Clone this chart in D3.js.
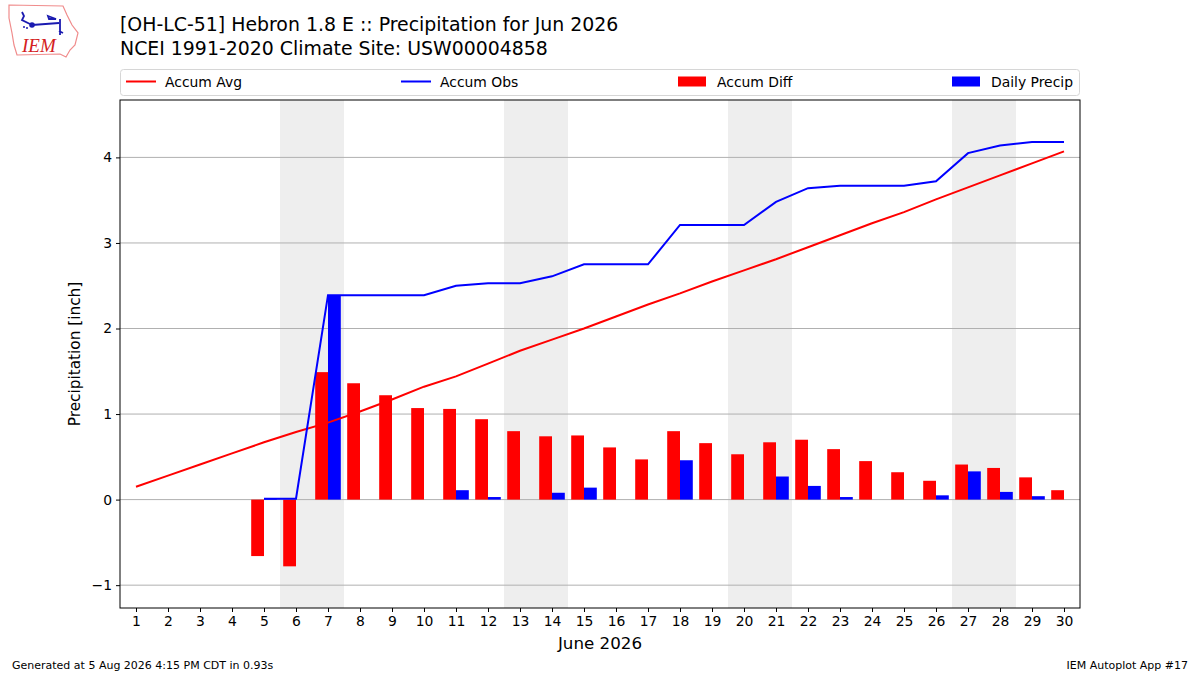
<!DOCTYPE html>
<html>
<head>
<meta charset="utf-8">
<script src="https://cdn.jsdelivr.net/npm/d3@7"></script>
<style>
  body { margin: 0; background: #fff; }
  svg { display: block; font-family: "DejaVu Sans", sans-serif; }
</style>
</head>
<body>
<svg id="chart" width="1200" height="675"></svg>
<script>
// days of June 2026
var days = d3.range(1, 31);
var weekendDays = [6, 7, 13, 14, 20, 21, 27, 28];

// accumulated climatology (inch)
var accumAvg = [0.15, 0.28, 0.41, 0.54, 0.67, 0.79, 0.90, 1.03, 1.17, 1.32,
                1.44, 1.59, 1.74, 1.87, 2.00, 2.14, 2.28, 2.41, 2.55, 2.68,
                2.81, 2.95, 3.09, 3.23, 3.36, 3.51, 3.65, 3.79, 3.93, 4.07];
// accumulated observed (inch), first 4 days missing
var accumObs = [null, null, null, null, 0.01, 0.01, 2.39, 2.39, 2.39, 2.39,
                2.50, 2.53, 2.53, 2.61, 2.75, 2.75, 2.75, 3.21, 3.21, 3.21,
                3.48, 3.64, 3.67, 3.67, 3.67, 3.72, 4.05, 4.14, 4.18, 4.18];
// accumulated departure (inch)
var accumDiff = [null, null, null, null, -0.66, -0.78, 1.49, 1.36, 1.22, 1.07,
                 1.06, 0.94, 0.80, 0.74, 0.75, 0.61, 0.47, 0.80, 0.66, 0.53,
                 0.67, 0.70, 0.59, 0.45, 0.32, 0.22, 0.41, 0.37, 0.26, 0.11];
// daily precipitation (inch)
var dailyPrecip = [null, null, null, null, 0.01, 0.00, 2.38, 0.00, 0.00, 0.00,
                   0.11, 0.03, 0.00, 0.08, 0.14, 0.00, 0.00, 0.46, 0.00, 0.00,
                   0.27, 0.16, 0.03, 0.00, 0.00, 0.05, 0.33, 0.09, 0.04, 0.00];

var yTicks = [-1, 0, 1, 2, 3, 4];

var svg = d3.select('#chart');
var plotL = 120, plotR = 1080, plotT = 100, plotB = 608;

var x = d3.scaleLinear().domain([0.5, 30.5]).range([plotL, plotR]);
var y = d3.scaleLinear().domain([-1.267, 4.671]).range([plotB, plotT]);
var bw = 0.4;

// weekend shading
svg.append('g').selectAll('rect')
    .data(weekendDays)
    .join('rect')
    .attr('x', d => x(d - 0.5))
    .attr('width', d => x(d + 0.5) - x(d - 0.5))
    .attr('y', plotT)
    .attr('height', plotB - plotT)
    .attr('fill', '#eeeeee');

// horizontal grid
svg.append('g').selectAll('line')
    .data(yTicks)
    .join('line')
    .attr('x1', plotL).attr('x2', plotR)
    .attr('y1', d => y(d)).attr('y2', d => y(d))
    .attr('stroke', '#b0b0b0')
    .attr('stroke-width', 1);

var rows = days.map((d, i) => ({day: d, avg: accumAvg[i], obs: accumObs[i], diff: accumDiff[i], daily: dailyPrecip[i]}));

// accum diff bars
svg.append('g').selectAll('rect')
    .data(rows.filter(r => r.diff !== null))
    .join('rect')
    .attr('x', r => x(r.day - bw))
    .attr('width', r => x(r.day) - x(r.day - bw))
    .attr('y', r => y(Math.max(0, r.diff)))
    .attr('height', r => Math.abs(y(r.diff) - y(0)))
    .attr('fill', '#ff0000');

// daily precip bars
svg.append('g').selectAll('rect')
    .data(rows.filter(r => r.daily))
    .join('rect')
    .attr('x', r => x(r.day))
    .attr('width', r => x(r.day + bw) - x(r.day))
    .attr('y', r => y(r.daily))
    .attr('height', r => y(0) - y(r.daily))
    .attr('fill', '#0000ff');

var avgLine = d3.line().x(r => x(r.day)).y(r => y(r.avg));
svg.append('path')
    .attr('d', avgLine(rows))
    .attr('fill', 'none').attr('stroke', '#ff0000').attr('stroke-width', 2);

var obsLine = d3.line().defined(r => r.obs !== null).x(r => x(r.day)).y(r => y(r.obs));
svg.append('path')
    .attr('d', obsLine(rows))
    .attr('fill', 'none').attr('stroke', '#0000ff').attr('stroke-width', 2);

// axes
var xAxis = d3.axisBottom(x).tickValues(days).tickSize(4).tickPadding(4);
var gx = svg.append('g').attr('transform', 'translate(0,' + plotB + ')').call(xAxis);
var yAxis = d3.axisLeft(y).tickValues(yTicks).tickFormat(d3.format('d')).tickSize(4).tickPadding(4);
var gy = svg.append('g').attr('transform', 'translate(' + plotL + ',0)').call(yAxis);
[gx, gy].forEach(g => {
    g.select('.domain').remove();
    g.selectAll('text').attr('font-size', 13.9).attr('font-family', 'DejaVu Sans').attr('fill', '#000');
    g.selectAll('line').attr('stroke', '#000');
});

// frame
svg.append('rect')
    .attr('x', plotL).attr('y', plotT)
    .attr('width', plotR - plotL).attr('height', plotB - plotT)
    .attr('fill', 'none').attr('stroke', '#000').attr('stroke-width', 1);

svg.append('text')
    .attr('x', (plotL + plotR) / 2).attr('y', 649)
    .attr('text-anchor', 'middle').attr('font-size', 16.7)
    .text('June 2026');
svg.append('text')
    .attr('transform', 'translate(80,' + ((plotT + plotB) / 2) + ') rotate(-90)')
    .attr('text-anchor', 'middle').attr('font-size', 15.3)
    .text('Precipitation [inch]');

// titles
svg.append('text').attr('x', 120).attr('y', 31).attr('font-size', 18.9)
    .text('[OH-LC-51] Hebron 1.8 E :: Precipitation for Jun 2026');
svg.append('text').attr('x', 120).attr('y', 55).attr('font-size', 18.9)
    .text('NCEI 1991-2020 Climate Site: USW00004858');

// legend
var leg = svg.append('g');
leg.append('rect')
    .attr('x', 120.5).attr('y', 69.5).attr('width', 959).attr('height', 26)
    .attr('rx', 3).attr('fill', '#fff').attr('stroke', '#d6d6d6');
var legItems = [
    {name: 'Accum Avg', kind: 'line', color: '#ff0000', x: 126},
    {name: 'Accum Obs', kind: 'line', color: '#0000ff', x: 401},
    {name: 'Accum Diff', kind: 'rect', color: '#ff0000', x: 678},
    {name: 'Daily Precip', kind: 'rect', color: '#0000ff', x: 952}
];
legItems.forEach(it => {
    if (it.kind === 'line') {
        leg.append('line').attr('x1', it.x).attr('x2', it.x + 30)
            .attr('y1', 81.5).attr('y2', 81.5)
            .attr('stroke', it.color).attr('stroke-width', 2);
    } else {
        leg.append('rect').attr('x', it.x).attr('y', 76.5)
            .attr('width', 28).attr('height', 10).attr('fill', it.color);
    }
    leg.append('text').attr('x', it.x + 39).attr('y', 86.5)
        .attr('font-size', 13.9).text(it.name);
});

// footer
svg.append('text').attr('x', 12).attr('y', 669).attr('font-size', 11)
    .text('Generated at 5 Aug 2026 4:15 PM CDT in 0.93s');
svg.append('text').attr('x', 1188).attr('y', 669).attr('font-size', 11)
    .attr('text-anchor', 'end').text('IEM Autoplot App #17');

// logo (IEM, Iowa outline)
var logo = svg.append('g');
logo.append('path')
    .attr('d', 'M9,5 L63,6 L67,15 L72,25 L78,33 L75,45 L70,50 L66,57 L60,54 L17,55 L14,45 L12,33 L9,18 Z')
    .attr('fill', 'none').attr('stroke', '#f08c8c').attr('stroke-width', 1.2);
logo.append('path')
    .attr('d', 'M32,25 L59,23 M60,19 L60,35 M22,12 L24,16 L22,20 L30,24 M48,16 L56,19 L49,19 Z M59,31 L63,33')
    .attr('fill', 'none').attr('stroke', '#1a1ab0').attr('stroke-width', 1.8);
logo.append('circle').attr('cx', 32).attr('cy', 25).attr('r', 2.8).attr('fill', '#1a1ab0');
logo.append('circle').attr('cx', 24).attr('cy', 27).attr('r', 1).attr('fill', '#1a1ab0');
logo.append('circle').attr('cx', 27).attr('cy', 28).attr('r', 1).attr('fill', '#1a1ab0');
logo.append('text').attr('x', 22).attr('y', 52)
    .attr('font-family', 'Liberation Serif').attr('font-style', 'italic')
    .attr('font-size', 19).attr('fill', '#d42020').text('IEM');
</script>
</body>
</html>
